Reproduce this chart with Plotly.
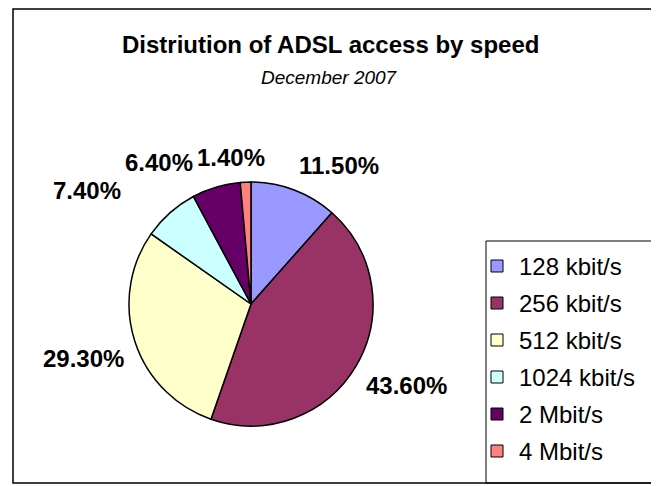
import math
import plotly.graph_objects as go

categories = ["128 kbit/s", "256 kbit/s", "512 kbit/s", "1024 kbit/s", "2 Mbit/s", "4 Mbit/s"]
shares = [11.5, 43.6, 29.3, 7.4, 6.4, 1.4]
colors = ["#9999FF", "#993366", "#FFFFCC", "#CCFFFF", "#660066", "#FF8080"]
title_text = "Distriution of ADSL access by speed"
subtitle_text = "December 2007"

# page body has an 8px margin, so the figure is sized to fit the window
W, H = 651, 478
FONT = "Liberation Sans, Arial, sans-serif"
LABEL_SIZE = 24

def px(x):
    return x / W

def py(y):
    return 1 - y / H

fig = go.Figure()

cx, cy, r = 243, 296, 122
fig.add_trace(go.Pie(
    labels=categories,
    values=shares,
    sort=False,
    direction="clockwise",
    rotation=0,
    marker=dict(colors=colors, line=dict(color="black", width=1.5)),
    textinfo="none",
    showlegend=False,
    domain=dict(x=[px(cx - r), px(cx + r)], y=[py(cy + r), py(cy - r)]),
    hoverinfo="label+percent",
))

shapes = [
    dict(type="rect", xref="paper", yref="paper", x0=px(5), x1=px(W + 20),
         y0=py(475), y1=py(1), line=dict(color="black", width=1.5), fillcolor="rgba(0,0,0,0)"),
]
annotations = [
    dict(text="<b>" + title_text + "</b>", x=px(322), y=py(37), xref="paper", yref="paper",
         showarrow=False, xanchor="center", yanchor="middle",
         font=dict(family=FONT, size=24, color="black")),
    dict(text="<i>" + subtitle_text + "</i>", x=px(321), y=py(69), xref="paper", yref="paper",
         showarrow=False, xanchor="center", yanchor="middle",
         font=dict(family=FONT, size=19, color="black")),
]

# data labels placed outside each slice along its mid-angle (label boxes)
total = sum(shares)
cum = 0.0
gap = 11
char_w = {".": 0.278, "%": 0.889}
boxes = []
for v in shares:
    mid = (cum + v / 2) / total * 2 * math.pi
    cum += v
    s, c = math.sin(mid), math.cos(mid)
    text = "%.2f%%" % v
    w = sum(char_w.get(ch, 0.556) for ch in text) * LABEL_SIZE
    h = 28
    ax = cx + (r + gap) * s
    ay = cy - (r + gap) * c
    bx = ax + w / 2 if s >= 0 else ax - w / 2
    by = ay - h / 2 if c >= 0 else ay + h / 2
    boxes.append({"x": bx, "y": by, "w": w, "text": text,
                  "side": 1 if s >= 0 else -1, "moved": False})

# resolve collisions: an unmoved neighbour shares the shift, otherwise the new label slides outward
placed = []
for b in reversed(boxes):
    for _ in range(10):
        hit = None
        for p in placed:
            if abs(b["x"] - p["x"]) < (b["w"] + p["w"]) / 2 + 4 and abs(b["y"] - p["y"]) < 30:
                hit = p
                break
        if hit is None:
            break
        need = (b["w"] + hit["w"]) / 2 + 4 - abs(b["x"] - hit["x"])
        d = b["side"]
        if not hit["moved"]:
            b["x"] += d * need / 2
            hit["x"] -= d * need / 2
            hit["moved"] = True
        else:
            b["x"] += d * need
        b["moved"] = True
    placed.append(b)

for b in boxes:
    annotations.append(dict(
        text="<b>" + b["text"] + "</b>", x=px(b["x"]), y=py(b["y"]), xref="paper", yref="paper",
        showarrow=False, xanchor="center", yanchor="middle",
        font=dict(family=FONT, size=LABEL_SIZE, color="black")))

# legend box
lx0, lx1, ly0, ly1 = 478, 644, 233, 475
shapes.append(dict(type="rect", xref="paper", yref="paper", x0=px(lx0), x1=px(lx1),
                   y0=py(ly1), y1=py(ly0), line=dict(color="black", width=1),
                   fillcolor="rgba(0,0,0,0)"))
item0, step = 258, 37
for i, (cat, col) in enumerate(zip(categories, colors)):
    yc = item0 + i * step
    shapes.append(dict(type="rect", xref="paper", yref="paper",
                       x0=px(lx0 + 5), x1=px(lx0 + 17), y0=py(yc + 6), y1=py(yc - 6),
                       fillcolor=col, line=dict(color="black", width=1)))
    annotations.append(dict(text=cat, x=px(lx0 + 31), y=py(yc), xref="paper", yref="paper",
                            showarrow=False, xanchor="left", yanchor="middle",
                            font=dict(family=FONT, size=24, color="black")))

fig.update_layout(
    width=W, height=H,
    margin=dict(l=0, r=0, t=0, b=0),
    paper_bgcolor="white",
    plot_bgcolor="white",
    shapes=shapes,
    annotations=annotations,
)

fig.write_html("out.html")
